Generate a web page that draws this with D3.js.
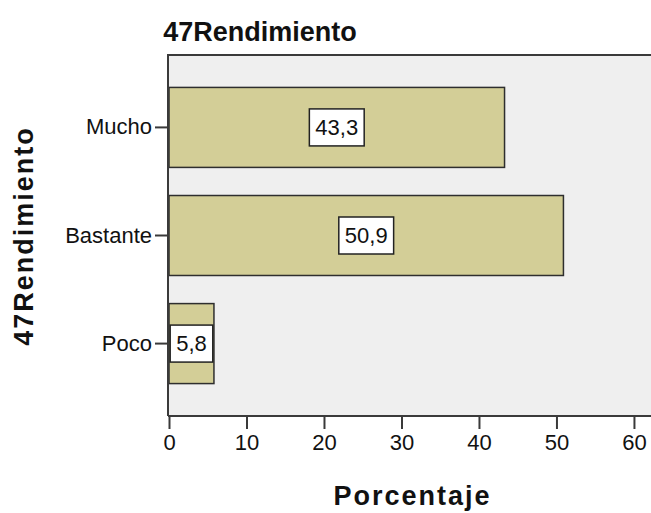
<!DOCTYPE html>
<html>
<head>
<meta charset="utf-8">
<script src="https://cdn.jsdelivr.net/npm/d3@7"></script>
<style>
  html, body { margin: 0; padding: 0; background: #fff; }
  svg { display: block; font-family: "Liberation Sans", Arial, sans-serif; }
</style>
</head>
<body>
<svg id="chart" width="651" height="513"></svg>
<script>
// Response categories and their percentages
const categories = ["Mucho", "Bastante", "Poco"];
const percentages = [43.3, 50.9, 5.8];
const xTicks = [0, 10, 20, 30, 40, 50, 60];

const svg = d3.select("#chart");
const plot = { left: 168, top: 55, right: 651, bottom: 416 };

const x = d3.scaleLinear().domain([0, 62.2]).range([plot.left + 1, plot.right]);
const y = d3.scaleBand().domain(categories)
  .range([plot.top, plot.bottom]).paddingInner(0.26).paddingOuter(0.3);

// Plot background
svg.append("rect")
  .attr("x", plot.left).attr("y", plot.top)
  .attr("width", plot.right - plot.left).attr("height", plot.bottom - plot.top)
  .attr("fill", "#efefef");

// Frame: top and left edges
svg.append("line")
  .attr("x1", plot.left).attr("x2", plot.right)
  .attr("y1", plot.top).attr("y2", plot.top)
  .attr("stroke", "#3a3a3a").attr("stroke-width", 2);

const rows = categories.map((c, i) => ({ cat: c, value: percentages[i] }));

// Bars
svg.append("g").selectAll("rect").data(rows).join("rect")
  .attr("x", x(0))
  .attr("y", d => y(d.cat))
  .attr("width", d => x(d.value) - x(0))
  .attr("height", y.bandwidth())
  .attr("fill", "#d3ce97")
  .attr("stroke", "#2e2e2e")
  .attr("stroke-width", 1.5);

// X axis
const xAxis = svg.append("g")
  .attr("transform", `translate(0,${plot.bottom})`)
  .call(d3.axisBottom(x).tickValues(xTicks).tickFormat(d3.format("d"))
    .tickSizeInner(13).tickSizeOuter(0).tickPadding(5));
xAxis.select(".domain").attr("stroke", "#3a3a3a").attr("stroke-width", 2)
  .attr("d", `M${plot.left},0H${plot.right}`);
xAxis.selectAll(".tick line").attr("stroke", "#3a3a3a").attr("stroke-width", 2);
xAxis.selectAll(".tick text").attr("font-size", 22).attr("fill", "#111")
  .attr("font-family", "Liberation Sans, Arial, sans-serif");

// Y axis
const yAxis = svg.append("g")
  .attr("transform", `translate(${plot.left},0)`)
  .call(d3.axisLeft(y).tickSizeInner(13).tickSizeOuter(0).tickPadding(3));
yAxis.select(".domain").attr("stroke", "#3a3a3a").attr("stroke-width", 2)
  .attr("d", `M0,${plot.top - 1}V${plot.bottom}`);
yAxis.selectAll(".tick line").attr("stroke", "#3a3a3a").attr("stroke-width", 2);
yAxis.selectAll(".tick text").attr("font-size", 22).attr("fill", "#111")
  .attr("font-family", "Liberation Sans, Arial, sans-serif");

// Value labels in white boxes centred on each bar
const labelFmt = v => d3.format(".1f")(v).replace(".", ",");
const labels = svg.append("g").selectAll("g").data(rows).join("g")
  .attr("transform", d => `translate(${(x(0) + x(d.value)) / 2},${y(d.cat) + y.bandwidth() / 2})`);
labels.append("text")
  .attr("text-anchor", "middle")
  .attr("dy", "0.35em")
  .attr("font-size", 22)
  .attr("fill", "#111")
  .text(d => labelFmt(d.value));
labels.each(function () {
  const g = d3.select(this);
  const bb = g.select("text").node().getBBox();
  const w = bb.width + 12, h = 37;
  g.insert("rect", "text")
    .attr("x", -w / 2).attr("y", -h / 2)
    .attr("width", w).attr("height", h)
    .attr("fill", "#fff").attr("stroke", "#222").attr("stroke-width", 1.5);
});

// Titles
svg.append("text")
  .attr("x", 260).attr("y", 41)
  .attr("text-anchor", "middle")
  .attr("font-size", 27).attr("font-weight", "bold").attr("fill", "#111")
  .text("47Rendimiento");

svg.append("text")
  .attr("x", (plot.left + plot.right) / 2 + 3).attr("y", 505)
  .attr("text-anchor", "middle")
  .attr("font-size", 27).attr("font-weight", "bold").attr("fill", "#111")
  .attr("letter-spacing", 2)
  .text("Porcentaje");

svg.append("text")
  .attr("transform", `translate(33,236) rotate(-90)`)
  .attr("text-anchor", "middle")
  .attr("font-size", 27).attr("font-weight", "bold").attr("fill", "#111")
  .attr("letter-spacing", 2)
  .text("47Rendimiento");
</script>
</body>
</html>
